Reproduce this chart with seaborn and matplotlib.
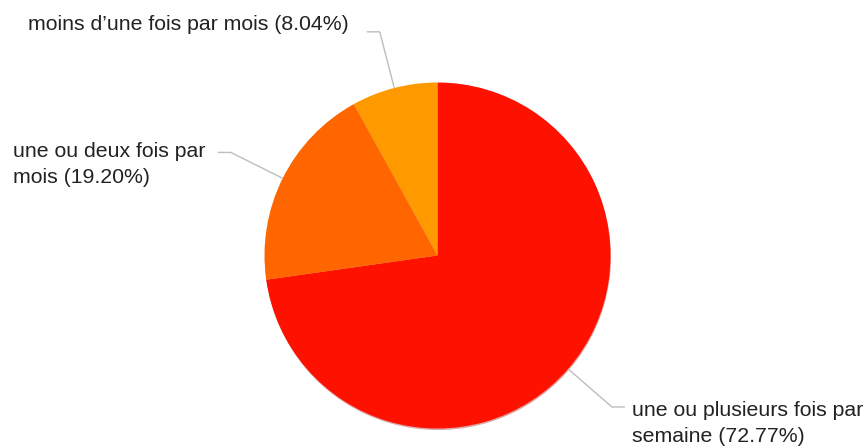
import numpy as np
import matplotlib
matplotlib.use("Agg")
import matplotlib.pyplot as plt
import seaborn as sns

# data
categories = ["une ou plusieurs fois par\nsemaine", "une ou deux fois par\nmois", "moins d\u2019une fois par mois"]
shares = [72.77, 19.20, 8.04]
colors = ["#ff1100", "#ff6600", "#ff9900"]

sns.set_theme(style="white")
plt.rcParams["font.family"] = ["Liberation Sans", "DejaVu Sans"]

W, H = 868, 446
fig = plt.figure(figsize=(W / 100, H / 100), dpi=100)
ax = fig.add_axes([0, 0, 1, 1])
ax.set_xlim(0, W)
ax.set_ylim(0, H)
ax.set_aspect("equal")
ax.axis("off")

cx, cy, r = 437.5, H - 255.5, 173

# faint shadow under the pie
shadow = plt.Circle((cx + 0.5, cy - 1.5), r, color="#a00000", alpha=0.35, lw=0, zorder=1)
ax.add_patch(shadow)

wedges, _ = ax.pie(shares, colors=colors, startangle=90, counterclock=False,
                   center=(cx, cy), radius=r, frame=True,
                   wedgeprops=dict(linewidth=0, zorder=2))
ax.set_xlim(0, W)
ax.set_ylim(0, H)
ax.axis("off")

# label text positions (left x, last-line baseline y in pixels from top)
label_pos = [(632, 442), (13, 183), (28, 30)]
side = [1, -1, -1]

for w, cat, val, (tx, ty), s in zip(wedges, categories, shares, label_pos, side):
    mid = np.deg2rad((w.theta1 + w.theta2) / 2)
    x0, y0 = cx + r * np.cos(mid), cy + r * np.sin(mid)
    x1, y1 = cx + (r + 58) * np.cos(mid), cy + (r + 58) * np.sin(mid)
    x2 = x1 + 13 * s
    ax.plot([x0, x1, x2], [y0, y1, y1], color="#bdbdbd", lw=1, zorder=3, solid_capstyle="butt")
    ax.text(tx, H - ty, f"{cat} ({val:.2f}%)", ha="left", va="baseline",
            fontsize=15.3, color="#222222", linespacing=1.45)

fig.savefig("out.png", dpi=100, facecolor="white")
